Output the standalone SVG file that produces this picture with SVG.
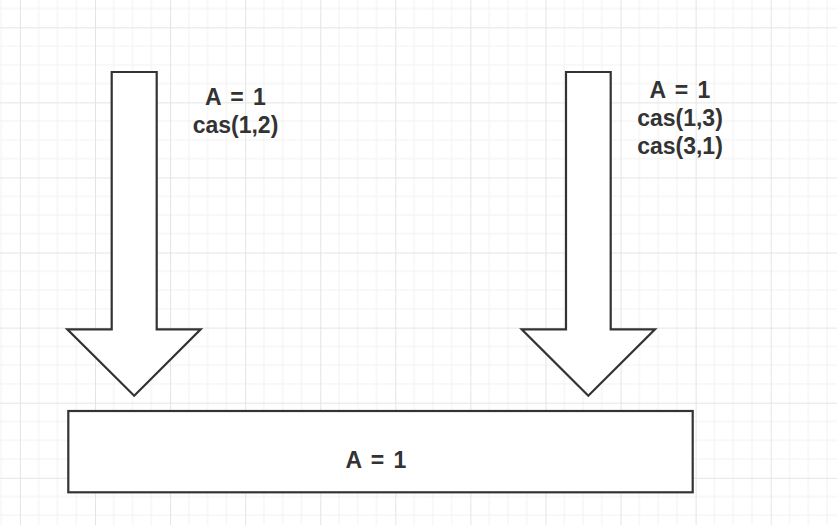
<svg xmlns="http://www.w3.org/2000/svg" width="837" height="525" viewBox="0 0 837 525">
  <defs>
    <pattern id="grid" patternUnits="userSpaceOnUse" x="19.92" y="27.3" width="75.08" height="75.08">
      <g stroke="#f1f1f1" stroke-width="1">
        <line x1="18.77" y1="0" x2="18.77" y2="75.08"/>
        <line x1="37.54" y1="0" x2="37.54" y2="75.08"/>
        <line x1="56.31" y1="0" x2="56.31" y2="75.08"/>
        <line x1="0" y1="18.77" x2="75.08" y2="18.77"/>
        <line x1="0" y1="37.54" x2="75.08" y2="37.54"/>
        <line x1="0" y1="56.31" x2="75.08" y2="56.31"/>
      </g>
      <g stroke="#e4e4e4" stroke-width="1">
        <line x1="0.5" y1="0" x2="0.5" y2="75.08"/>
        <line x1="0" y1="0.5" x2="75.08" y2="0.5"/>
      </g>
    </pattern>
    <style>
      .shape { fill: #ffffff; stroke: #333333; stroke-width: 2.2; stroke-linejoin: miter; }
      .lbl { font-family: "Liberation Sans", Arial, sans-serif; font-weight: bold; font-size: 23px; fill: #333333; text-anchor: middle; }
      .eq { word-spacing: 3px; }
    </style>
  </defs>
  <rect x="0" y="0" width="837" height="525" fill="#ffffff"/>
  <rect x="0" y="0" width="837" height="525" fill="url(#grid)"/>

  <g id="arrow-left">
    <polygon class="shape" points="111.7,72 156.7,72 156.7,329.3 200.7,329.3 134.2,395.7 67.3,329.3 111.7,329.3"/>
  </g>
  <g id="label-left">
    <text class="lbl eq" x="235.5" y="105">A = 1</text>
    <text class="lbl" x="235.5" y="132.7">cas(1,2)</text>
  </g>

  <g id="arrow-right">
    <polygon class="shape" points="566,72 610.7,72 610.7,329.3 655,329.3 588.3,395.7 521.7,329.3 566,329.3"/>
  </g>
  <g id="label-right">
    <text class="lbl eq" x="680" y="98.3">A = 1</text>
    <text class="lbl" x="680" y="126">cas(1,3)</text>
    <text class="lbl" x="680" y="153.5">cas(3,1)</text>
  </g>

  <g id="memory">
    <rect class="shape" x="68.3" y="411" width="624.4" height="81.3"/>
    <text class="lbl eq" x="376" y="467.7">A = 1</text>
  </g>
</svg>
